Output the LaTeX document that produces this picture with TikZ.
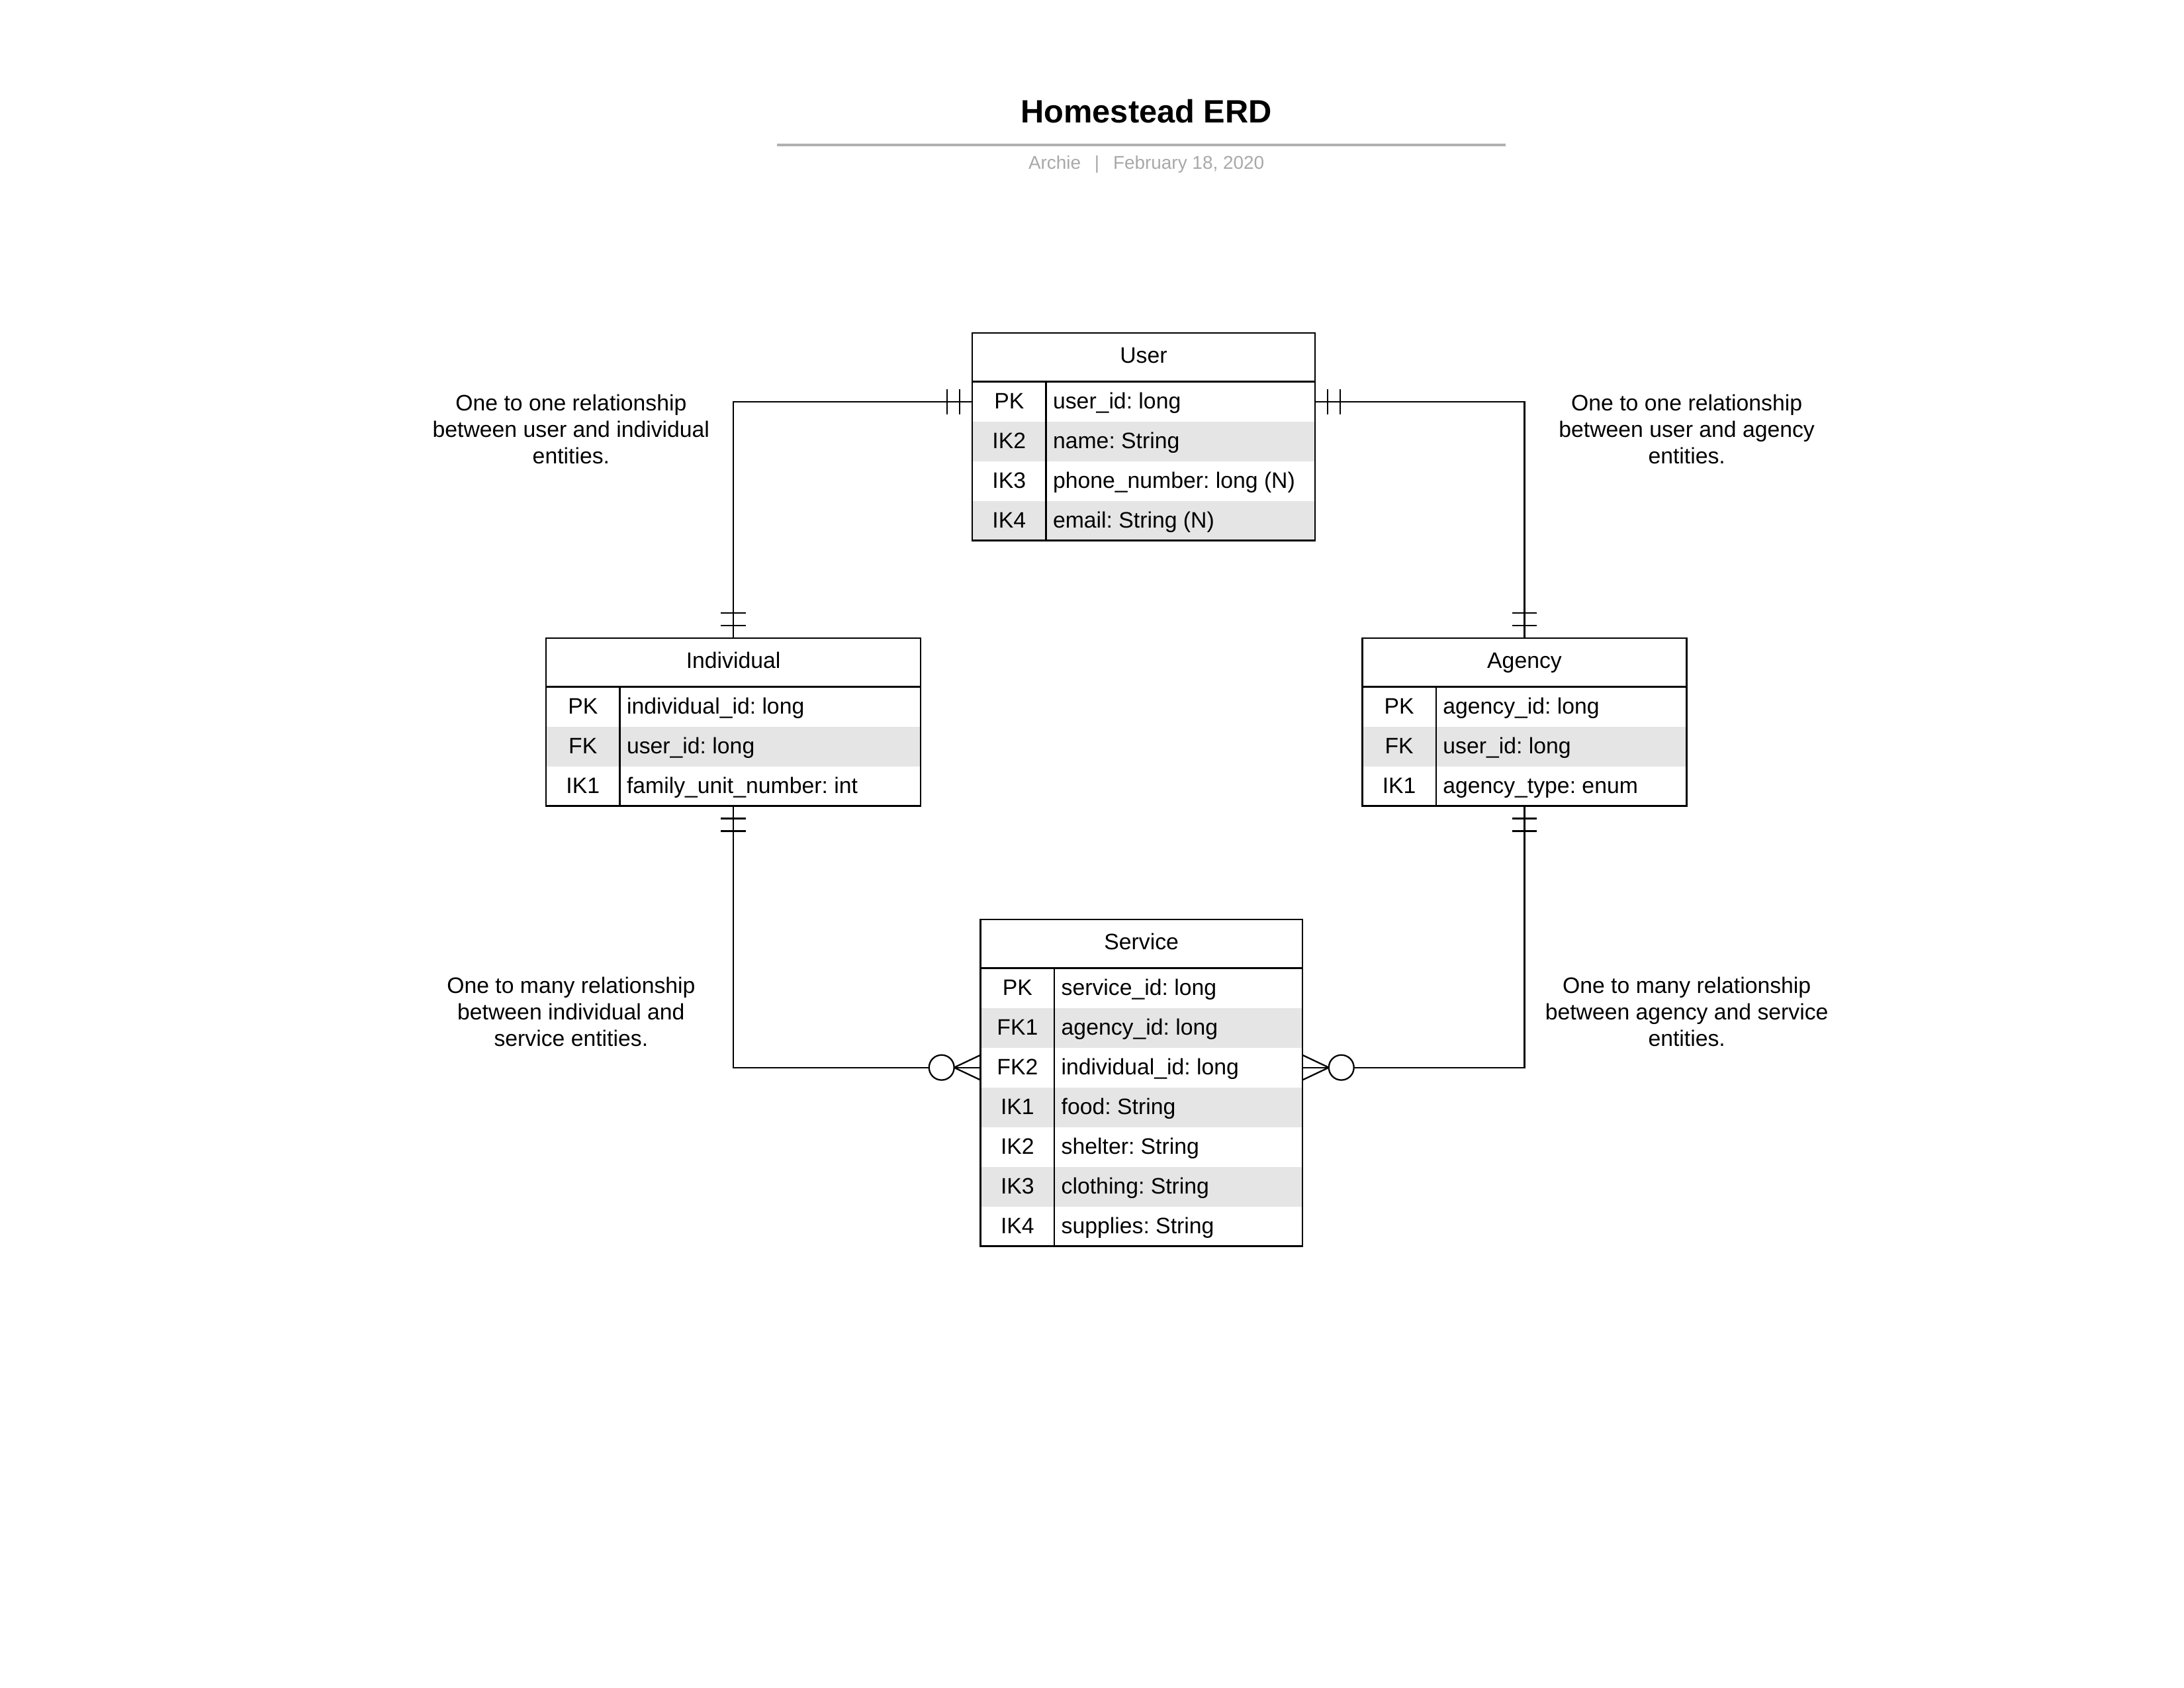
\documentclass[tikz,border=0pt]{standalone}
\usepackage{fontspec}
\setmainfont{Liberation Sans}
\usetikzlibrary{calc}
\frenchspacing
\definecolor{rowgray}{HTML}{E5E5E5}
\definecolor{subgray}{HTML}{A8A8A8}
\definecolor{rulegray}{HTML}{B0B0B0}
\newlength\pxu \setlength\pxu{0.5051pt}
\tikzset{
  every node/.style={font=\fontsize{8.1}{9.6}\selectfont\frenchspacing, inner sep=0pt, outer sep=0pt},
  tabhead/.style={draw=black, line width=0.6pt, anchor=north west, minimum height=35\pxu, text height=5.8pt, text depth=1.5pt},
  rowcell/.style={anchor=north west, minimum height=28.5\pxu},
  tabline/.style={draw=black, line width=0.6pt},
  conn/.style={draw=black, line width=0.55pt},
  note/.style={align=center, font=\fontsize{8.1}{9.6}\selectfont\frenchspacing},
}
% name, L, R, T, D, title, n, rows
\newcommand\ertable[8]{%
  \foreach \k/\f/\g [count=\i] in {#8} {
    \node[rowcell, minimum width={(#3-#2)*\pxu}, fill=\g] (#1-\i) at (#2,{#4+35+(\i-1)*28.5}) {};
    \node[anchor=mid] (#1-k\i) at ({(#2+#5)/2},{#4+35+(\i-0.5)*28.5}) {\k};
    \node[anchor=mid west] (#1-f\i) at ({#5+5},{#4+35+(\i-0.5)*28.5}) {\f};
  }
  \node[tabhead, minimum width={(#3-#2)*\pxu}] (#1) at (#2,#4) {#6};
  \draw[tabline] (#1.north west) rectangle (#1-#7.south east);
  \draw[tabline] (#5,#4+35) -- (#5,{#4+35+#7*28.5});
}
\begin{document}
\begin{tikzpicture}[x=0.5051pt, y=-0.5051pt]
\useasboundingbox (0,0) rectangle (1568,1211.6);

% title block
\node[font=\bfseries\fontsize{11.7}{14}\selectfont] (title) at (823,80) {Homestead ERD};
\draw[rulegray, line width=1pt] (558,104) -- (1081,104);
\node[text=subgray, font=\fontsize{6.7}{8}\selectfont] (sub) at (823,118)
  {Archie\hspace{5pt}|\hspace{5pt}February 18, 2020};

% tables
\ertable{user}{698}{944}{239}{751}{User}{4}{PK/{user\_id: long}/white, IK2/{name: String}/rowgray, IK3/{phone\_number: long (N)}/white, IK4/{email: String (N)}/rowgray}
\ertable{ind}{392}{661}{458}{445}{Individual}{3}{PK/{individual\_id: long}/white, FK/{user\_id: long}/rowgray, IK1/{family\_unit\_number: int}/white}
\ertable{agn}{978}{1211}{458}{1031}{Agency}{3}{PK/{agency\_id: long}/white, FK/{user\_id: long}/rowgray, IK1/{agency\_type: enum}/white}
\ertable{svc}{704}{935}{660}{757}{Service}{7}{PK/{service\_id: long}/white, FK1/{agency\_id: long}/rowgray, FK2/{individual\_id: long}/white, IK1/{food: String}/rowgray, IK2/{shelter: String}/white, IK3/{clothing: String}/rowgray, IK4/{supplies: String}/white}

% connectors
\draw[conn] (user-1.west) -| (ind.north);
\draw[conn] (user-1.east) -| (agn.north);
\draw[conn] (ind-3.south) |- (svc-3.west);
\draw[conn] (agn-3.south) |- (svc-3.east);

% one-and-only-one bars
\foreach \d in {9,18} {
  \draw[conn] ($(user-1.west)+(-\d,-9)$) -- ++(0,18);
  \draw[conn] ($(user-1.east)+(\d,-9)$) -- ++(0,18);
  \draw[conn] ($(ind.north)+(-9,-\d)$) -- ++(18,0);
  \draw[conn] ($(agn.north)+(-9,-\d)$) -- ++(18,0);
  \draw[conn] ($(ind-3.south)+(-9,\d)$) -- ++(18,0);
  \draw[conn] ($(agn-3.south)+(-9,\d)$) -- ++(18,0);
}

% zero-or-many crow's feet
\draw[conn, fill=white] ($(svc-3.west)+(-28,0)$) circle[radius=9\pxu];
\draw[conn] ($(svc-3.west)+(-19,0)$) -- ($(svc-3.west)+(0,-9)$);
\draw[conn] ($(svc-3.west)+(-19,0)$) -- ($(svc-3.west)+(0,9)$);
\draw[conn, fill=white] ($(svc-3.east)+(28,0)$) circle[radius=9\pxu];
\draw[conn] ($(svc-3.east)+(19,0)$) -- ($(svc-3.east)+(0,-9)$);
\draw[conn] ($(svc-3.east)+(19,0)$) -- ($(svc-3.east)+(0,9)$);

% notes
\node[note] (n1) at (410,308) {One to one relationship\\between user and individual\\entities.};
\node[note] (n2) at (1211,308) {One to one relationship\\between user and agency\\entities.};
\node[note] (n3) at (410,726) {One to many relationship\\between individual and\\service entities.};
\node[note] (n4) at (1211,726) {One to many relationship\\between agency and service\\entities.};
\end{tikzpicture}
\end{document}
